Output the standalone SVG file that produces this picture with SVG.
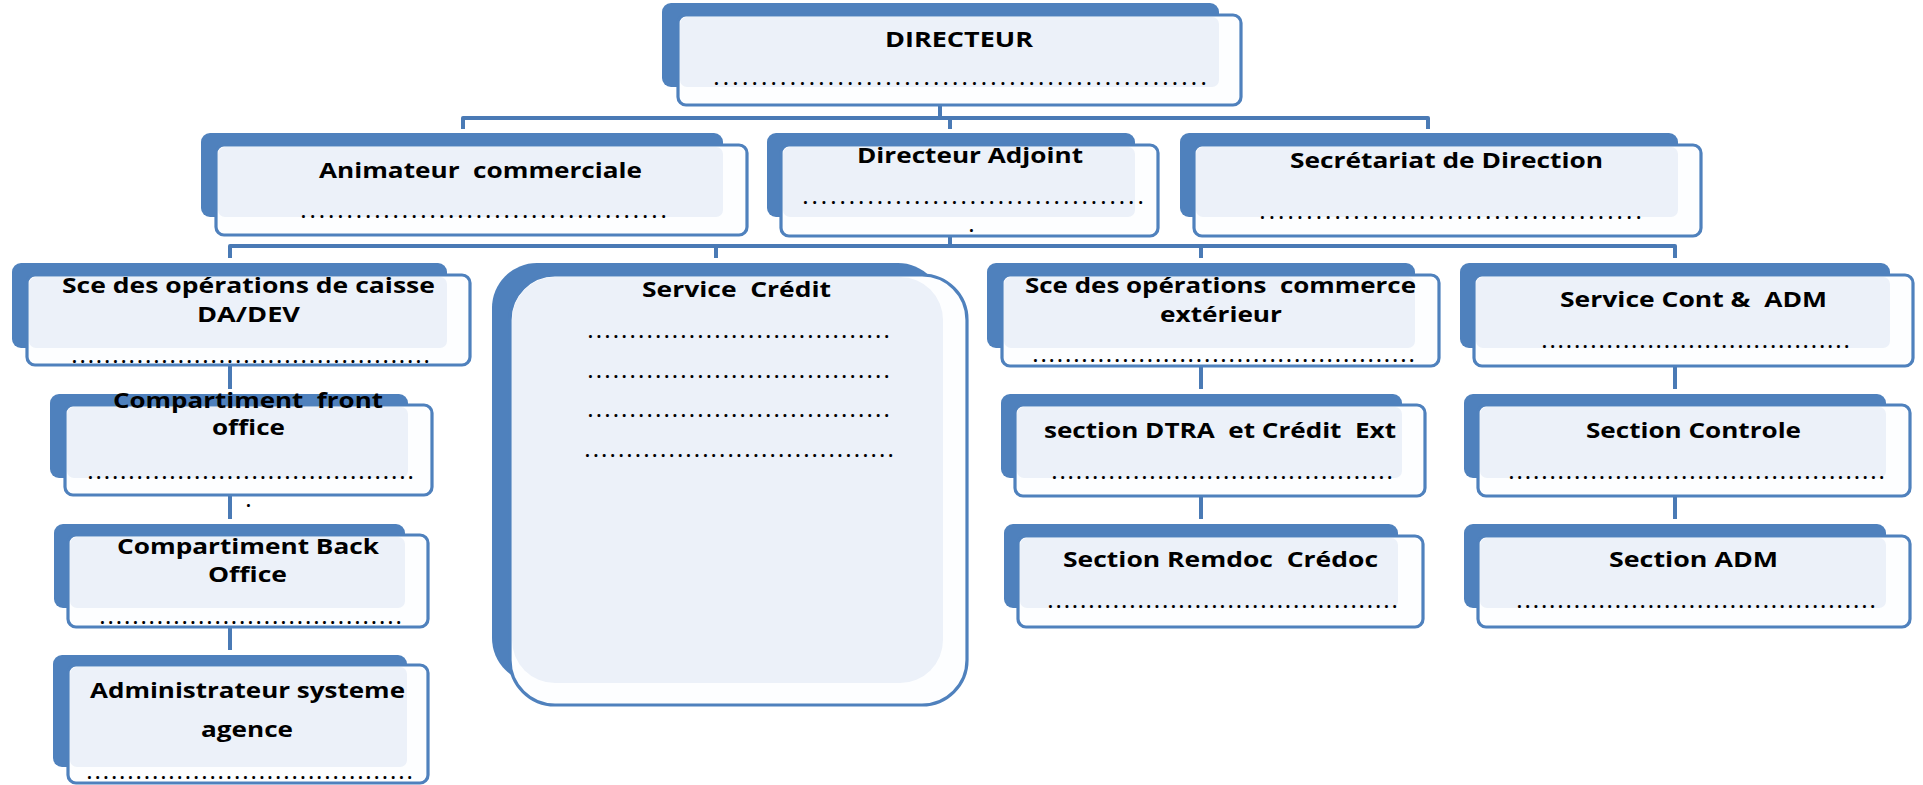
<svg xmlns="http://www.w3.org/2000/svg" width="1923" height="785" viewBox="0 0 1923 785">
<style>
.back{fill:#4F81BD}
.front{fill:#FDFEFF;stroke:#4F81BD;stroke-width:3.2}
.inner{fill:#ECF1F9}
.lbl{font-family:"Open Sans","Liberation Sans",sans-serif;font-weight:700;font-size:21px;fill:#000}
.dots{font-family:"Open Sans","Liberation Sans",sans-serif;font-weight:700;font-size:17px;fill:#000}
.conn{fill:none;stroke:#4A7AB5;stroke-width:4;stroke-linejoin:round}
</style>
<rect width="1923" height="785" fill="#fff"/>
<g id="connectors" class="conn">
<path d="M940,105 V118"/>
<path d="M463,129 V118 H1428 V129"/>
<path d="M950,118 V129"/>
<path d="M950,236 V246"/>
<path d="M230,258 V246 H1675 V258"/>
<path d="M716,246 V258"/>
<path d="M1201,246 V258"/>
<path d="M230,365 V389"/>
<path d="M230,495 V519"/>
<path d="M230,627 V650"/>
<path d="M1201,366 V389"/>
<path d="M1201,496 V519"/>
<path d="M1675,366 V389"/>
<path d="M1675,496 V519"/>
</g>
<g id="n-directeur">
<rect class="back" x="662" y="3" width="557" height="84" rx="9"/>
<rect class="front" x="678" y="15" width="563" height="90" rx="8"/>
<rect class="inner" x="680" y="17" width="539" height="70" rx="7"/>
<text class="lbl" x="885" y="47" textLength="148" lengthAdjust="spacingAndGlyphs">DIRECTEUR</text>
<text class="dots" x="714" y="85" textLength="492" lengthAdjust="spacing">....................................................</text>
</g>
<g id="n-animateur">
<rect class="back" x="201" y="133" width="522" height="84" rx="9"/>
<rect class="front" x="216" y="145" width="531" height="90" rx="8"/>
<rect class="inner" x="218" y="147" width="505" height="70" rx="7"/>
<text class="lbl" x="319" y="178" textLength="323" lengthAdjust="spacingAndGlyphs" xml:space="preserve">Animateur  commerciale</text>
<text class="dots" x="301" y="218" textLength="365" lengthAdjust="spacing">........................................</text>
</g>
<g id="n-adjoint">
<rect class="back" x="767" y="133" width="368" height="84" rx="9"/>
<rect class="front" x="781" y="145" width="377" height="91" rx="8"/>
<rect class="inner" x="783" y="147" width="352" height="70" rx="7"/>
<text class="lbl" x="857" y="163" textLength="226" lengthAdjust="spacingAndGlyphs">Directeur Adjoint</text>
<text class="dots" x="803" y="204" textLength="340" lengthAdjust="spacing">.....................................</text>
<text class="dots" x="969" y="232">.</text>
</g>
<g id="n-secretariat">
<rect class="back" x="1180" y="133" width="498" height="84" rx="9"/>
<rect class="front" x="1194" y="145" width="507" height="91" rx="8"/>
<rect class="inner" x="1196" y="147" width="482" height="70" rx="7"/>
<text class="lbl" x="1290" y="168" textLength="313" lengthAdjust="spacingAndGlyphs">Secrétariat de Direction</text>
<text class="dots" x="1260" y="219" textLength="381" lengthAdjust="spacing">.........................................</text>
</g>
<g id="n-caisse">
<rect class="back" x="12" y="263" width="435" height="85" rx="9"/>
<rect class="front" x="27" y="275" width="443" height="90" rx="8"/>
<rect class="inner" x="29" y="277" width="418" height="71" rx="7"/>
<text class="lbl" x="62" y="293" textLength="373" lengthAdjust="spacingAndGlyphs">Sce des opérations de caisse</text>
<text class="lbl" x="197" y="322" textLength="103" lengthAdjust="spacingAndGlyphs">DA/DEV</text>
<text class="dots" x="72" y="363" textLength="357" lengthAdjust="spacing">............................................</text>
</g>
<g id="n-front-office">
<rect class="back" x="50" y="394" width="358" height="84" rx="9"/>
<rect class="front" x="65" y="405" width="367" height="90" rx="8"/>
<rect class="inner" x="67" y="407" width="341" height="71" rx="7"/>
<text class="lbl" x="113" y="408" textLength="270" lengthAdjust="spacingAndGlyphs" xml:space="preserve">Compartiment  front</text>
<text class="lbl" x="212" y="435" textLength="73" lengthAdjust="spacingAndGlyphs">office</text>
<text class="dots" x="88" y="479" textLength="325" lengthAdjust="spacing">........................................</text>
<text class="dots" x="246" y="507">.</text>
</g>
<g id="n-back-office">
<rect class="back" x="54" y="524" width="351" height="84" rx="9"/>
<rect class="front" x="68" y="535" width="360" height="92" rx="8"/>
<rect class="inner" x="70" y="537" width="335" height="71" rx="7"/>
<text class="lbl" x="117" y="554" textLength="262" lengthAdjust="spacingAndGlyphs">Compartiment Back</text>
<text class="lbl" x="208" y="582" textLength="79" lengthAdjust="spacingAndGlyphs">Office</text>
<text class="dots" x="100" y="624" textLength="301" lengthAdjust="spacing">.....................................</text>
</g>
<g id="n-admin-systeme">
<rect class="back" x="53" y="655" width="354" height="112" rx="9"/>
<rect class="front" x="68" y="665" width="360" height="118" rx="8"/>
<rect class="inner" x="70" y="667" width="337" height="100" rx="7"/>
<text class="lbl" x="90" y="698" textLength="315" lengthAdjust="spacingAndGlyphs">Administrateur systeme</text>
<text class="lbl" x="201" y="737" textLength="92" lengthAdjust="spacingAndGlyphs">agence</text>
<text class="dots" x="87" y="779" textLength="325" lengthAdjust="spacing">........................................</text>
</g>
<g id="n-credit">
<rect class="back" x="492" y="263" width="451" height="420" rx="45"/>
<rect class="front" x="510" y="275" width="457" height="430" rx="45"/>
<rect class="inner" x="512" y="277" width="431" height="406" rx="43"/>
<text class="lbl" x="642" y="297" textLength="189" lengthAdjust="spacingAndGlyphs" xml:space="preserve">Service  Crédit</text>
<text class="dots" x="588" y="338" textLength="301" lengthAdjust="spacing">....................................</text>
<text class="dots" x="588" y="378" textLength="301" lengthAdjust="spacing">....................................</text>
<text class="dots" x="588" y="417" textLength="301" lengthAdjust="spacing">....................................</text>
<text class="dots" x="585" y="457" textLength="308" lengthAdjust="spacing">.....................................</text>
</g>
<g id="n-commerce">
<rect class="back" x="987" y="263" width="428" height="85" rx="9"/>
<rect class="front" x="1002" y="275" width="437" height="91" rx="8"/>
<rect class="inner" x="1004" y="277" width="411" height="71" rx="7"/>
<text class="lbl" x="1025" y="293" textLength="391" lengthAdjust="spacingAndGlyphs" xml:space="preserve">Sce des opérations  commerce</text>
<text class="lbl" x="1160" y="322" textLength="122" lengthAdjust="spacingAndGlyphs">extérieur</text>
<text class="dots" x="1033" y="362" textLength="381" lengthAdjust="spacing">...............................................</text>
</g>
<g id="n-dtra">
<rect class="back" x="1001" y="394" width="401" height="84" rx="9"/>
<rect class="front" x="1015" y="405" width="410" height="91" rx="8"/>
<rect class="inner" x="1017" y="407" width="385" height="71" rx="7"/>
<text class="lbl" x="1044" y="438" textLength="352" lengthAdjust="spacingAndGlyphs" xml:space="preserve">section DTRA  et Crédit  Ext</text>
<text class="dots" x="1052" y="479" textLength="340" lengthAdjust="spacing">..........................................</text>
</g>
<g id="n-remdoc">
<rect class="back" x="1004" y="524" width="394" height="84" rx="9"/>
<rect class="front" x="1018" y="536" width="405" height="91" rx="8"/>
<rect class="inner" x="1020" y="538" width="378" height="70" rx="7"/>
<text class="lbl" x="1063" y="567" textLength="315" lengthAdjust="spacingAndGlyphs" xml:space="preserve">Section Remdoc  Crédoc</text>
<text class="dots" x="1048" y="608" textLength="349" lengthAdjust="spacing">...........................................</text>
</g>
<g id="n-cont-adm">
<rect class="back" x="1460" y="263" width="430" height="85" rx="9"/>
<rect class="front" x="1474" y="275" width="439" height="91" rx="8"/>
<rect class="inner" x="1476" y="277" width="414" height="71" rx="7"/>
<text class="lbl" x="1560" y="307" textLength="267" lengthAdjust="spacingAndGlyphs" xml:space="preserve">Service Cont &amp;  ADM</text>
<text class="dots" x="1542" y="348" textLength="307" lengthAdjust="spacing">......................................</text>
</g>
<g id="n-controle">
<rect class="back" x="1464" y="394" width="422" height="84" rx="9"/>
<rect class="front" x="1478" y="405" width="432" height="91" rx="8"/>
<rect class="inner" x="1480" y="407" width="406" height="71" rx="7"/>
<text class="lbl" x="1586" y="438" textLength="215" lengthAdjust="spacingAndGlyphs">Section Controle</text>
<text class="dots" x="1509" y="479" textLength="375" lengthAdjust="spacing">..............................................</text>
</g>
<g id="n-section-adm">
<rect class="back" x="1464" y="524" width="422" height="84" rx="9"/>
<rect class="front" x="1478" y="536" width="432" height="91" rx="8"/>
<rect class="inner" x="1480" y="538" width="406" height="70" rx="7"/>
<text class="lbl" x="1609" y="567" textLength="169" lengthAdjust="spacingAndGlyphs">Section ADM</text>
<text class="dots" x="1517" y="608" textLength="358" lengthAdjust="spacing">............................................</text>
</g>
</svg>
